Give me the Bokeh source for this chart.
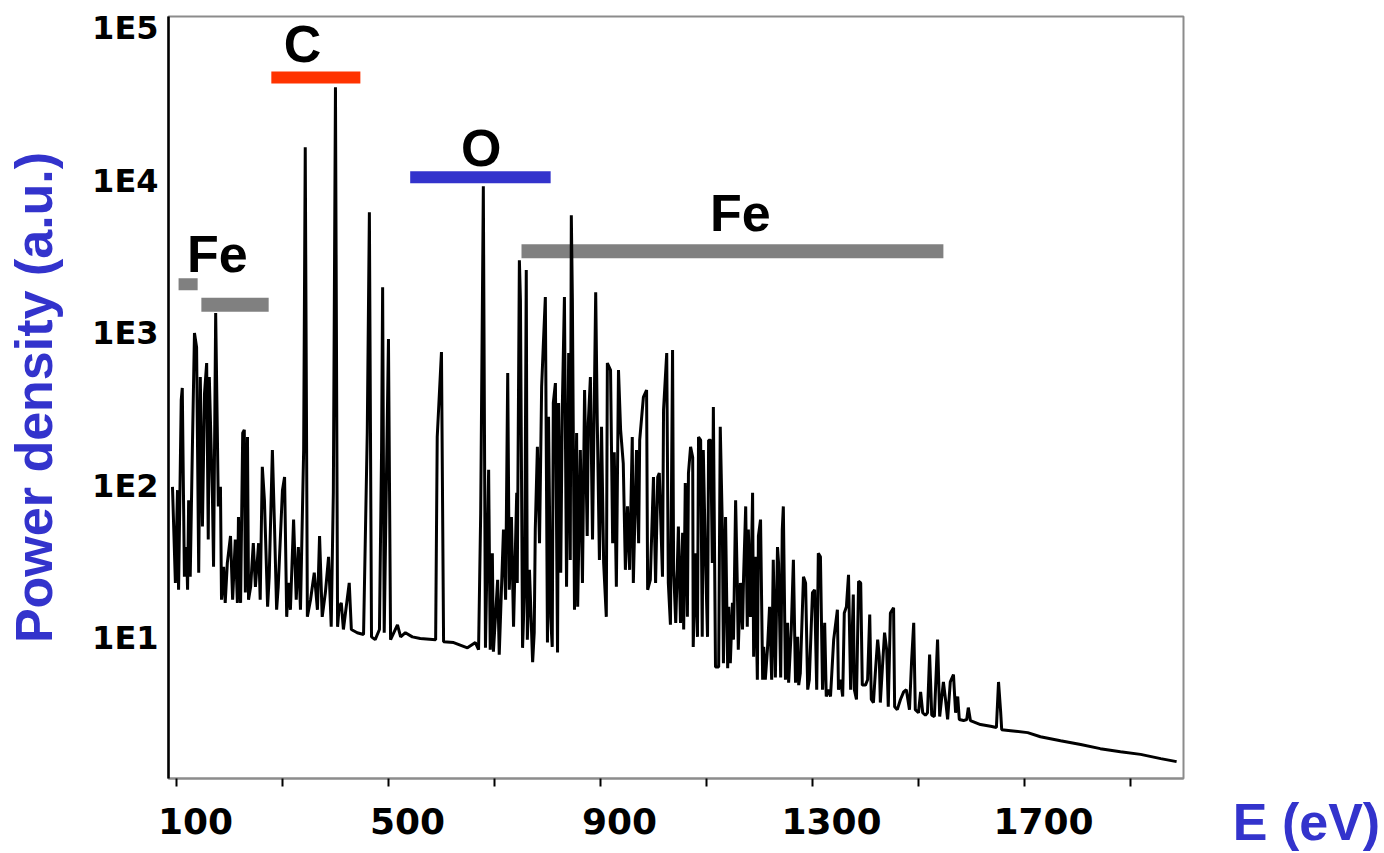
from bokeh.plotting import figure
from bokeh.layouts import row
from bokeh.models import (ColumnDataSource, FixedTicker, LogAxis, LinearAxis, Range1d,
                          LogScale, LinearScale, CustomJSTickFormatter)
from bokeh.core.properties import value
from bokeh.embed import file_html
from bokeh.resources import INLINE

# ---------------- data ----------------
x_ev = [
    92.5, 98, 102, 104, 109, 111, 115, 119, 121, 123,
    126, 130, 134, 138, 142, 145, 149, 153, 157, 160,
    162, 168, 170, 174, 177, 179, 183, 185, 189, 192,
    196, 202, 206, 211, 215, 217, 221, 225, 228, 230,
    234, 236, 240, 245, 249, 255, 258, 262, 266, 272,
    275, 281, 285, 289, 292, 300, 304, 308, 311, 315,
    321, 326, 330, 334, 340, 343, 347, 353, 360, 366,
    370, 375, 381, 387, 392, 396, 400, 404, 407, 411,
    415, 426, 430, 441, 453, 460, 464, 468, 475, 483,
    487, 489, 492, 500, 504, 517, 523, 532, 545, 560,
    589, 592, 600, 604, 623, 649, 664, 670, 674, 679,
    683, 689, 692, 696, 698, 706, 709, 717, 721, 725,
    728, 732, 736, 742, 743, 747, 749, 753, 757, 760,
    762, 766, 772, 775, 777, 781, 785, 789, 792, 796,
    800, 802, 806, 809, 811, 815, 819, 821, 825, 828,
    832, 836, 840, 843, 845, 847, 851, 855, 857, 862,
    866, 870, 875, 877, 881, 885, 891, 894, 898, 902,
    906, 911, 913, 919, 923, 926, 930, 934, 938, 943,
    947, 951, 955, 960, 962, 968, 972, 974, 981, 987,
    989, 994, 1000, 1004, 1008, 1011, 1017, 1019, 1025, 1028,
    1032, 1036, 1038, 1042, 1045, 1047, 1051, 1055, 1057, 1060,
    1064, 1066, 1070, 1074, 1075, 1079, 1083, 1085, 1089, 1092,
    1094, 1098, 1102, 1104, 1108, 1111, 1113, 1117, 1123, 1126,
    1130, 1132, 1136, 1140, 1142, 1145, 1149, 1151, 1155, 1158,
    1160, 1164, 1168, 1170, 1174, 1177, 1179, 1183, 1187, 1189,
    1192, 1196, 1198, 1202, 1206, 1208, 1211, 1215, 1219, 1223,
    1226, 1230, 1234, 1236, 1240, 1243, 1245, 1249, 1253, 1255,
    1260, 1264, 1268, 1272, 1274, 1277, 1283, 1287, 1291, 1294,
    1300, 1304, 1308, 1311, 1315, 1319, 1323, 1326, 1330, 1334,
    1340, 1347, 1349, 1353, 1357, 1360, 1364, 1368, 1372, 1377,
    1379, 1383, 1387, 1391, 1394, 1400, 1404, 1408, 1411, 1415,
    1419, 1423, 1426, 1428, 1432, 1436, 1440, 1443, 1447, 1453,
    1455, 1460, 1466, 1472, 1477, 1483, 1487, 1491, 1494, 1500,
    1504, 1508, 1513, 1517, 1521, 1525, 1530, 1536, 1540, 1547,
    1551, 1555, 1560, 1566, 1570, 1574, 1577, 1585, 1591, 1594,
    1598, 1617, 1636, 1647, 1651, 1655, 1657, 1674, 1706, 1730,
    1768, 1806, 1843, 1881, 1919, 1957, 1987,
]
power = [
    82, 19.2, 78, 17.3, 305, 365, 21.1, 33, 17.3, 67,
    21.1, 143, 837, 677, 22.4, 431, 45, 339, 532, 37,
    431, 67, 24.5, 1132, 203, 61, 82, 14.9, 24.5, 14.2,
    26, 39, 14.9, 37, 14.2, 52, 14.2, 185, 194, 16.6,
    174, 14.9, 18.1, 35, 18.1, 35, 14.9, 111, 67, 13.4,
    21.1, 143, 45, 12.8, 18.1, 78, 95, 11.5, 19.2, 12.8,
    50, 14.9, 33, 12.8, 143, 13860, 11.5, 14.9, 22.4, 12.8,
    39, 11.5, 16.6, 28.5, 9.9, 75, 34300, 9.9, 13.4, 14.2,
    9.5, 19.2, 9.5, 9.05, 8.8, 185, 5200, 8.5, 8.15, 9.5,
    143, 1675, 9.05, 764, 8.15, 10.2, 8.5, 9.05, 8.5, 8.3,
    8.15, 174, 628, 7.9, 7.8, 7.2, 7.8, 7.0, 55, 7690,
    7.2, 106, 7.0, 30, 6.8, 20.1, 6.5, 43, 14.9, 458,
    17.3, 52, 9.9, 75, 19.2, 2518, 1377, 7.2, 19.2, 2167,
    8.15, 23.4, 5.8, 9.05, 43, 150, 35, 371, 677, 1441,
    7.8, 236, 11.5, 7.3, 291, 393, 6.7, 291, 22.4, 274,
    1441, 18.1, 619, 27.2, 4960, 1377, 12.8, 185, 13.4, 143,
    19.2, 354, 39, 215, 431, 37, 1553, 215, 27.2, 203,
    26, 11.5, 532, 479, 35, 138, 18.1, 479, 194, 117,
    23.4, 61, 23.4, 174, 19.2, 143, 35, 166, 318, 354,
    17.3, 20.1, 95, 19.2, 95, 101, 21.1, 262, 619, 19.2,
    10.2, 647, 23.4, 10.5, 24.5, 45, 10.5, 41, 9.5, 87,
    11.5, 101, 150, 128, 7.3, 30, 8.5, 174, 166, 8.5,
    143, 28.5, 8.5, 166, 166, 26, 274, 5.4, 5.4, 203,
    43, 5.7, 52, 5.3, 13.4, 5.7, 14.2, 8.15, 67, 20.1,
    7.0, 19.2, 9.5, 21.1, 61, 9.9, 43, 11.5, 75, 6.3,
    28.5, 4.45, 39, 50, 4.45, 7.3, 4.45, 7.0, 13.4, 4.45,
    27.2, 4.6, 33, 26, 4.6, 43, 61, 4.45, 10.5, 4.25,
    9.5, 27.2, 4.25, 8.5, 4.1, 4.9, 21.1, 19.2, 3.83, 4.45,
    16.6, 17.3, 3.83, 30, 28.5, 3.83, 10.5, 3.45, 3.83, 3.45,
    8.15, 12.8, 3.83, 4.45, 3.45, 12.2, 13.4, 21.7, 3.83, 16.1,
    3.83, 3.3, 19.7, 19.2, 4.1, 4.1, 4.45, 11.9, 3.3, 3.15,
    5.2, 8.15, 6.3, 3.15, 5.4, 9.05, 7.0, 2.96, 12.2, 13.2,
    2.96, 2.83, 3.3, 3.7, 3.83, 2.83, 5.9, 10.5, 2.83, 2.7,
    3.7, 2.7, 2.6, 2.7, 6.5, 2.6, 2.55, 8.15, 2.55, 4.3,
    3.3, 2.44, 4.3, 4.8, 2.7, 3.45, 2.44, 2.4, 2.44, 2.92,
    2.4, 2.26, 2.2, 2.16, 4.3, 2.75, 2.09, 2.06, 2.0, 1.88,
    1.77, 1.67, 1.57, 1.50, 1.44, 1.35, 1.29,
]
assert len(x_ev) == len(power)

x_ticks = [100, 300, 500, 700, 900, 1100, 1300, 1500, 1700, 1900]
x_tick_labels = {100: "100", 500: "500", 900: "900", 1300: "1300", 1700: "1700"}
y_ticks = [10, 100, 1000, 10000, 100000]
y_tick_labels = {10: "1E1", 100: "1E2", 1000: "1E3", 10000: "1E4", 100000: "1E5"}

# element bands (energy span and level)
band_start = [279, 541, 751, 104, 147]
band_end = [447, 806, 1547, 140, 274]
band_level = [39800, 8810, 2884, 1753, 1286]
band_colors = ["#FF3300", "#3333CC", "#808080", "#808080", "#808080"]
band_thickness = [12, 12, 14, 12, 14]

label_text = ["C", "O", "Fe", "Fe"]
label_x = [338, 675, 1164, 177]
label_y = [65550, 13740, 5155, 2756]

x_title = "E (eV)"
y_title = "Power density (a.u.)"
BLUE = "#3333CC"

# ---------------- main figure ----------------
p = figure(width=1190, height=853,
           x_range=Range1d(85, 2000), y_range=Range1d(1, 1e5),
           y_axis_type="log", y_axis_location=None,
           output_backend="svg", toolbar_location=None,
           min_border_left=168, min_border_right=7,
           min_border_top=16, min_border_bottom=74)
p.grid.visible = False
p.outline_line_color = "#8c8c8c"
p.outline_line_width = 2
p.background_fill_color = "white"
p.border_fill_color = "white"

# tick-mark axis (true positions)
ax = p.xaxis[0]
ax.ticker = FixedTicker(ticks=x_ticks)
ax.formatter = CustomJSTickFormatter(code="return ''")
ax.major_label_text_font_size = "1px"
ax.major_label_standoff = 0
ax.major_tick_out = 8
ax.major_tick_in = 0
ax.major_tick_line_color = "black"
ax.major_tick_line_width = 2
ax.minor_tick_line_color = None
ax.axis_line_color = "#8c8c8c"
ax.axis_line_width = 2

# label axes (labels drawn slightly offset from the ticks, as in the reference)
p.extra_x_ranges = {"lbl": Range1d(85 - 36, 2000 - 36)}
p.extra_x_scales = {"lbl": LinearScale()}
lx = LinearAxis(x_range_name="lbl", ticker=FixedTicker(ticks=list(x_tick_labels)))
lx.major_label_overrides = x_tick_labels
lx.axis_line_color = None
lx.major_tick_line_color = None
lx.minor_tick_line_color = None
lx.major_label_standoff = 15
lx.major_label_text_font = "DejaVu Sans"
lx.major_label_text_font_style = "bold"
lx.major_label_text_font_size = "36px"
lx.major_label_text_color = "black"
p.add_layout(lx, "below")

d = 12 / 152.6
p.extra_y_ranges = {"lbl": Range1d(10 ** d, 10 ** (5 + d))}
p.extra_y_scales = {"lbl": LogScale()}
ly = LogAxis(y_range_name="lbl", ticker=FixedTicker(ticks=y_ticks))
ly.major_label_overrides = y_tick_labels
ly.axis_line_color = "black"
ly.axis_line_width = 2.5
ly.major_tick_out = 0
ly.major_tick_in = 0
ly.major_tick_line_color = None
ly.minor_tick_line_color = None
ly.major_label_standoff = 10
ly.major_label_text_font = "DejaVu Sans"
ly.major_label_text_font_style = "bold"
ly.major_label_text_font_size = "32px"
ly.major_label_text_color = "black"
ly.axis_label = y_title
ly.axis_label_standoff = 26
ly.axis_label_text_font = "Liberation Sans"
ly.axis_label_text_font_style = "bold"
ly.axis_label_text_font_size = "52px"
ly.axis_label_text_color = BLUE
p.add_layout(ly, "left")

# bands
band_src = ColumnDataSource(dict(x0=band_start, x1=band_end, y=band_level,
                                 c=band_colors, w=band_thickness))
p.segment(x0="x0", x1="x1", y0="y", y1="y", line_color="c", line_width="w",
          line_cap="butt", source=band_src)

# spectrum
src = ColumnDataSource(dict(x=x_ev, y=power))
p.line(x="x", y="y", source=src, line_color="black", line_width=3)

# element labels
lbl_src = ColumnDataSource(dict(x=label_x, y=label_y, t=label_text))
p.text(x="x", y="y", text="t", source=lbl_src, text_font=value("Liberation Sans"),
       text_font_style="bold", text_font_size=value("52px"), text_align="center",
       text_baseline="middle", text_color="black")

# ---------------- x-axis title panel (right of the frame, at tick-label level) ----------------
p2 = figure(width=194, height=853, x_range=Range1d(0, 1), y_range=Range1d(0, 1),
            y_axis_location=None,
            output_backend="svg", toolbar_location=None,
            min_border_left=38, min_border_right=0,
            min_border_top=16, min_border_bottom=74)
p2.grid.visible = False
p2.outline_line_color = None
p2.background_fill_color = "white"
p2.border_fill_color = "white"
tx = p2.xaxis[0]
tx.ticker = FixedTicker(ticks=[])
tx.axis_line_color = None
tx.major_tick_line_color = None
tx.minor_tick_line_color = None
tx.major_label_standoff = 0
tx.axis_label = x_title
tx.axis_label_standoff = 14
tx.axis_label_text_font = "Liberation Sans"
tx.axis_label_text_font_style = "bold"
tx.axis_label_text_font_size = "52px"
tx.axis_label_text_color = BLUE

layout = row(p, p2, spacing=0)
open("out.html", "w").write(file_html(layout, INLINE))
